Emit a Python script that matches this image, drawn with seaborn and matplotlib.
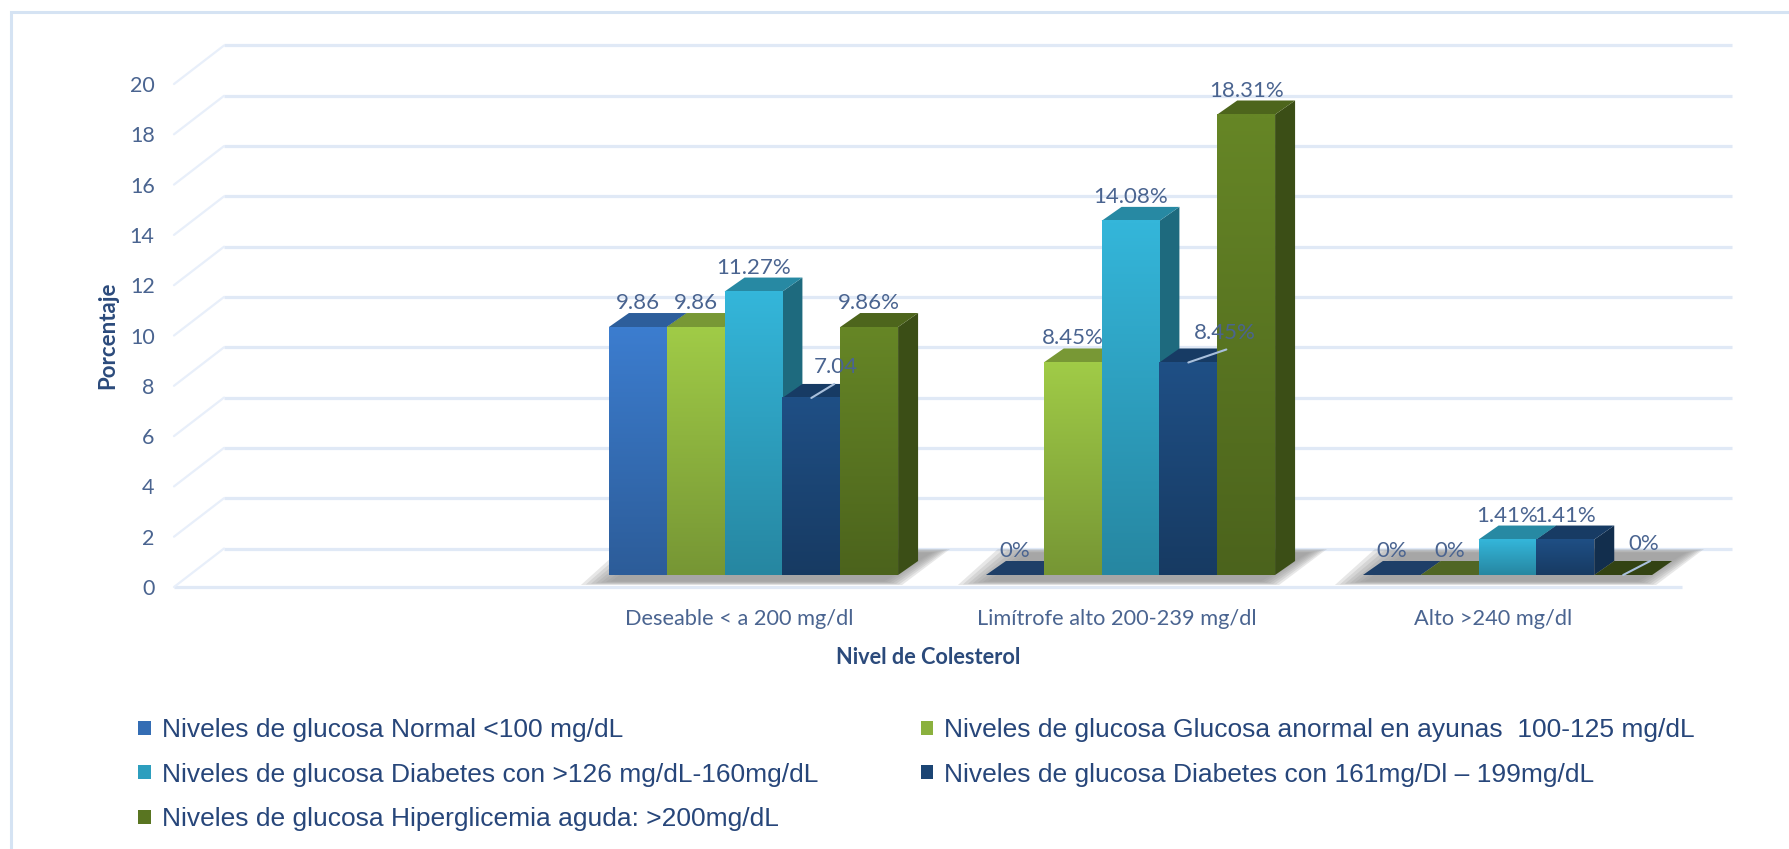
import numpy as np
import pandas as pd
import matplotlib
matplotlib.use("Agg")
import matplotlib.pyplot as plt
import seaborn as sns
from matplotlib.patches import Patch, Polygon, Rectangle
from matplotlib.transforms import Affine2D, IdentityTransform

# data
categories = ["", "Deseable < a 200 mg/dl", "Limítrofe alto 200-239 mg/dl", "Alto >240 mg/dl"]
series_names = [
    "Niveles de glucosa Normal <100 mg/dL",
    "Niveles de glucosa Glucosa anormal en ayunas  100-125 mg/dL",
    "Niveles de glucosa Diabetes con >126 mg/dL-160mg/dL",
    "Niveles de glucosa Diabetes con 161mg/Dl – 199mg/dL",
    "Niveles de glucosa Hiperglicemia aguda: >200mg/dL",
]
normal = [9.86, 0, 0]
anormal = [9.86, 8.45, 0]
diabetes_126 = [11.27, 14.08, 1.41]
diabetes_161 = [7.04, 8.45, 1.41]
hiperglicemia = [9.86, 18.31, 0]

labels_normal = ["9.86", "0%", "0%"]
labels_anormal = ["9.86", "8.45%", "0%"]
labels_126 = ["11.27%", "14.08%", "1.41%"]
labels_161 = ["7.04", "8.45%", "1.41%"]
labels_hiper = ["9.86%", "18.31%", "0%"]

colors = ["#3c7dcf", "#a0cb47", "#34b6da", "#1f4f85", "#668626"]
text_color = "#4a6490"
dark_text = "#2b4a7b"
grid_color = "#e0e9f6"

sns.set_theme(style="white")
plt.rcParams["font.family"] = ["Lato", "DejaVu Sans"]

W, H = 1790, 849
fig = plt.figure(figsize=(W / 100, H / 100), dpi=100)
ax = fig.add_axes([174 / W, (H - 587) / H, 1508 / W, 503 / H])

rows = []
for name, vals, labs in zip(series_names,
                            [normal, anormal, diabetes_126, diabetes_161, hiperglicemia],
                            [labels_normal, labels_anormal, labels_126, labels_161, labels_hiper]):
    for cat, v, lab in zip(categories[1:], vals, labs):
        rows.append({"cat": cat, "serie": name, "valor": v, "label": lab})
df = pd.DataFrame(rows)

sns.barplot(data=df, x="cat", y="valor", hue="serie", order=categories, hue_order=series_names,
            palette=colors, width=0.767, gap=0, errorbar=None, legend=False, ax=ax)

ax.set_xlim(-0.5, 3.5)
ax.set_ylim(0, 20)
ax.set_yticks(range(0, 21, 2))
sns.despine(ax=ax, left=True, bottom=True, right=True, top=True)
ax.patch.set_alpha(0)
ax.tick_params(axis="y", length=0, pad=14, labelsize=15.5, labelcolor=text_color)
ax.tick_params(axis="x", length=0, pad=16, labelsize=15.7, labelcolor=text_color)
ax.set_xlabel("Nivel de Colesterol", fontsize=15.7, fontweight="bold", color=dark_text)
ax.set_ylabel("Porcentaje", fontsize=16, fontweight="bold", color=dark_text)
ax.xaxis.set_label_coords(0.5, -0.12)
ax.yaxis.set_label_coords(-0.037, 0.5)

# 3D look: everything is offset in pixels from the data positions
PLANE = (14, 12)    # bars stand a bit behind the front edge
DEPTH = (20, 14)    # depth of one bar
WALL = (50, 38.5)   # back wall
plane = ax.transData + Affine2D().translate(*PLANE)
wall = ax.transData + Affine2D().translate(*WALL)
disp = IdentityTransform()


def poly(pts, color, z, alpha=1):
    ax.add_patch(Polygon(pts, closed=True, facecolor=color, edgecolor="none", alpha=alpha,
                         transform=disp, clip_on=False, zorder=z))


def scale(c, f):
    return tuple(np.array(matplotlib.colors.to_rgb(c)) * f)


# walls and grid
ax.hlines(list(ax.get_yticks()), -0.5, 3.5, colors=grid_color, lw=2.3, transform=wall, zorder=1, clip_on=False)
ax.hlines(0, -0.5, 3.5, colors=grid_color, lw=2.3, zorder=1, clip_on=False)
for t in ax.get_yticks():
    x0, y0 = ax.transData.transform((-0.5, t))
    ax.plot([x0, x0 + WALL[0]], [y0, y0 + WALL[1]], color="#e8effa", lw=1.6, transform=disp,
            clip_on=False, zorder=1)

# collect the bars seaborn drew
groups = {}
for s, cont in enumerate(ax.containers):
    for bar in cont:
        groups.setdefault(round(bar.get_x() + bar.get_width() / 2 - (s - 2) * bar.get_width()), []).append((s, bar))

label_shift = {(3, 0): (24, 31), (3, 1): (36, 29), (4, 2): (21, 31)}
leader_end = {(3, 0): (23, 14), (3, 1): (38, 13), (4, 2): (27, 14)}

for g, (cat_pos, members) in enumerate(sorted(groups.items())):
    lefts, rights = [], []
    for s, bar in members:
        x0, x1 = bar.get_x(), bar.get_x() + bar.get_width()
        h = bar.get_height()
        z = 3 + s * 0.1
        px0, py0 = plane.transform((x0, 0))
        px1, py1 = plane.transform((x1, h))
        lefts.append(px0)
        rights.append(px1)
        c = colors[s]
        dx, dy = DEPTH
        if h > 0:
            poly([(px1, py0), (px1, py1), (px1 + dx, py1 + dy), (px1 + dx, py0 + dy)], scale(c, 0.58), z)
            poly([(px0, py1), (px1, py1), (px1 + dx, py1 + dy), (px0 + dx, py1 + dy)], scale(c, 0.75), z)
        else:
            poly([(px0, py1), (px1, py1), (px1 + dx, py1 + dy), (px0 + dx, py1 + dy)], scale(c, 0.5), z)
        bar.set_transform(plane)
        bar.set_clip_on(False)
        bar.set_zorder(z + 0.01)
        bar.set_edgecolor("none")
        if h > 0:
            top, bottom = np.array(scale(c, 1.0)), np.array(scale(c, 0.74))
            grad = np.linspace(top, bottom, 64)[:, None, :]
            ax.imshow(grad, extent=(x0, x1, 0, h), origin="upper", aspect="auto", interpolation="bilinear",
                      transform=plane, clip_on=False, zorder=z + 0.02)
        lab = df[(df["serie"] == series_names[s]) & (df["cat"] == categories[g + 1])]["label"].iloc[0]
        sx, sy = label_shift.get((s, g), (0, 24))
        ax.annotate(lab, xy=((x0 + x1) / 2, h), xycoords=plane, xytext=(sx, sy), textcoords="offset pixels",
                    ha="center", va="center", fontsize=16, color=text_color, zorder=10, annotation_clip=False)
        if (s, g) in leader_end:
            ex, ey = leader_end[(s, g)]
            mx = (px0 + px1) / 2
            ax.plot([mx, mx + ex], [py1, py1 + ey], color="#a9c0dc", lw=1.5, transform=disp, clip_on=False, zorder=9)
    # soft floor shadow under the group
    left, right = min(lefts), max(rights)
    _, base = plane.transform((0, 0))
    for k in range(7):
        il, ir, iy = k * 5, k * 3, k * 0.6
        poly([(left - 28 + il, base - 10 + iy), (right + 4 - ir, base - 10 + iy),
              (right + 52 - ir, base + 26 - iy), (left + 12 + il, base + 26 - iy)],
             "#959595", 1.5, alpha=0.22)

ax.set_xlim(-0.5, 3.5)
ax.set_ylim(0, 20)

# legend, column order as in the picture
order = [0, 2, 4, 1, 3]
handles = [Patch(facecolor=scale(colors[i], 0.87), edgecolor="none") for i in order]
fig.legend(handles, [series_names[i] for i in order], ncol=2, frameon=False, loc="upper left",
           bbox_to_anchor=(125 / W, 1 - 705 / H), labelcolor="#27467a",
           prop={"family": "Liberation Sans", "size": 19}, handlelength=0.47, handleheight=0.45,
           handletextpad=0.42, columnspacing=3.9, labelspacing=0.78, borderpad=0)

# chart frame, it runs off the picture on the right and at the bottom
fig.add_artist(Rectangle((11.5 / W, -0.05), 1.1, 1.05 - 12 / H, transform=fig.transFigure,
                         fill=False, edgecolor="#d5e3f3", lw=2.2))

fig.savefig("out.png", dpi=100)
